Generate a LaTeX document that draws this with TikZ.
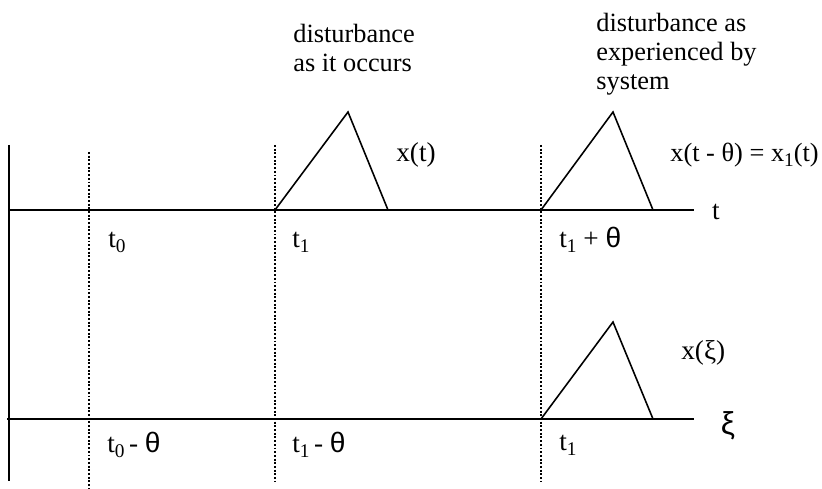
\documentclass[tikz,border=0pt]{standalone}
\usepackage{fontspec}
\setmainfont{Liberation Serif}
\newfontfamily\greeksans{Liberation Sans}
\usetikzlibrary{positioning}

\newcommand{\thsans}{{\greeksans\fontsize{16}{17}\selectfont θ}}
\newcommand{\lowsub}[1]{\raisebox{-0.4ex}{\fontsize{11}{11}\selectfont #1}}

\begin{document}
\begin{tikzpicture}[
    x=0.02cm, y=-0.02cm,
    % styles
    axis_line/.style={line width=1.1pt},
    mark_line/.style={line width=1.1pt, densely dotted},
    pulse_line/.style={line width=0.9pt, line join=miter},
    tick_label/.style={font=\fontsize{15.5}{17}\selectfont, anchor=west, inner sep=0pt},
    note_label/.style={font=\fontsize{15}{16.5}\selectfont, align=left, anchor=north west, inner sep=0pt}
]
    \useasboundingbox (0,0) rectangle (822,489);

    % --- axes ---
    \coordinate (v_top) at (9,145);
    \coordinate (v_bot) at (9,481);
    \coordinate (t_start) at (9,210);
    \coordinate (t_end) at (694,210);
    \coordinate (xi_start) at (7,419);
    \coordinate (xi_end) at (694,419);
    \draw[axis_line] (v_top) -- (v_bot);
    \draw[axis_line] (t_start) -- (t_end);
    \draw[axis_line] (xi_start) -- (xi_end);
    \node[font=\fontsize{15.5}{17}\selectfont] (t_name) at (716,212) {t};
    \node[font=\fontsize{18}{18}\selectfont\greeksans] (xi_name) at (728,426) {ξ};

    % --- dotted time marks ---
    \coordinate (m0_top) at (89,152);
    \coordinate (m0_bot) at (89,488);
    \coordinate (m1_top) at (275,145);
    \coordinate (m1_bot) at (275,482);
    \coordinate (m2_top) at (541,145);
    \coordinate (m2_bot) at (541,482);
    \draw[mark_line] (m0_top) -- (m0_bot);
    \draw[mark_line] (m1_top) -- (m1_bot);
    \draw[mark_line] (m2_top) -- (m2_bot);

    % --- pulses ---
    \coordinate (p1_a) at (275,210);
    \coordinate (p1_b) at (348,112);
    \coordinate (p1_c) at (388,210);
    \draw[pulse_line] (p1_a) -- (p1_b) -- (p1_c);
    \coordinate (p2_a) at (541,210);
    \coordinate (p2_b) at (613,112);
    \coordinate (p2_c) at (653,210);
    \draw[pulse_line] (p2_a) -- (p2_b) -- (p2_c);
    \coordinate (p3_a) at (541,419);
    \coordinate (p3_b) at (613,322);
    \coordinate (p3_c) at (653,419);
    \draw[pulse_line] (p3_a) -- (p3_b) -- (p3_c);

    % --- labels on t axis ---
    \node[tick_label] (lt0) at (108,242) {t\lowsub{0}};
    \node[tick_label] (lt1) at (292,242) {t\lowsub{1}};
    \node[tick_label] (lt1th) at (559,240) {t\lowsub{1} + \thsans};

    % --- labels on xi axis ---
    \node[tick_label] (lxi0) at (107,445) {t\lowsub{0}\,- \thsans};
    \node[tick_label] (lxi1) at (292,445) {t\lowsub{1}\,- \thsans};
    \node[tick_label] (lxi2) at (559,445) {t\lowsub{1}};

    % --- pulse names ---
    \node[tick_label] (lx) at (396,155) {x(t)};
    \node[tick_label, font=\fontsize{15}{17}\selectfont] (lx1) at (670,155) {x(t - θ) = x\lowsub{1}(t)};
    \node[tick_label] (lxxi) at (681,353) {x(ξ)};

    % --- notes ---
    \node[note_label] (note1) at (293,24) {disturbance\\as it occurs};
    \node[note_label] (note2) at (596,13) {disturbance as\\experienced by\\system};

\end{tikzpicture}
\end{document}
